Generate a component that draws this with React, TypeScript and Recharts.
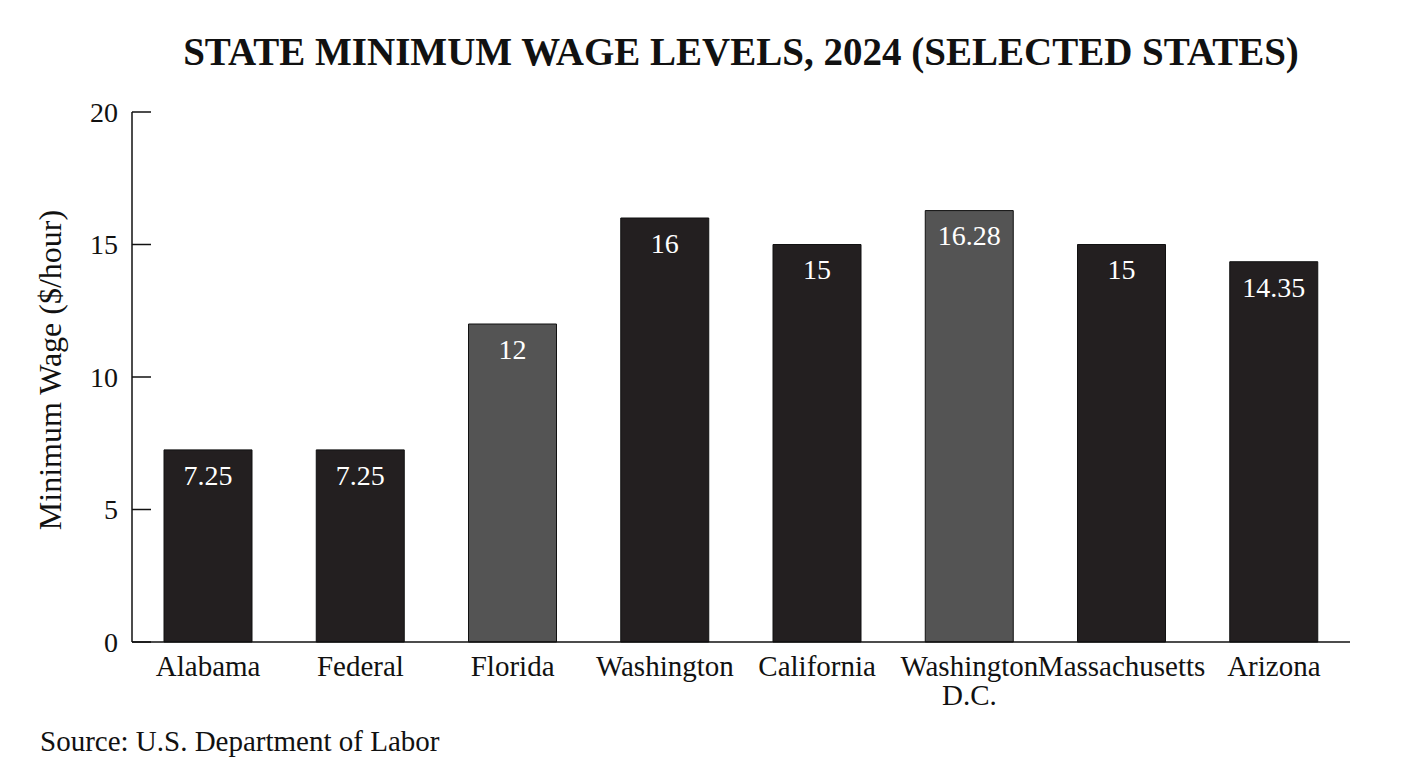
import { BarChart, Bar, XAxis, YAxis, Cell, LabelList } from "recharts";

const categories = [
  "Alabama",
  "Federal",
  "Florida",
  "Washington",
  "California",
  "Washington D.C.",
  "Massachusetts",
  "Arizona",
];
const wages = [7.25, 7.25, 12, 16, 15, 16.28, 15, 14.35];
const yTicks = [0, 5, 10, 15, 20];

const DARK = "#231f20";
const GREY = "#545454";
const barFills = [DARK, DARK, GREY, DARK, DARK, GREY, DARK, DARK];

const SERIF = '"Liberation Serif", "Times New Roman", serif';
const INK = "#111";

const data = categories.map((name, i) => ({ name, wage: wages[i] }));

const Y_TICK_MARGIN = 14;

function YTick({ x, y, payload }: any) {
  const axisX = x + Y_TICK_MARGIN;
  return (
    <g>
      <line x1={axisX} x2={axisX + 19} y1={y} y2={y} stroke={INK} strokeWidth={1.5} />
      <text
        x={x}
        y={y}
        dy="0.35em"
        textAnchor="end"
        fontFamily={SERIF}
        fontSize={28}
        fill={INK}
      >
        {payload.value}
      </text>
    </g>
  );
}

// long multi-word names break at the last space so neighbours don't collide
function splitLabel(label: string): string[] {
  const cut = label.lastIndexOf(" ");
  if (label.length <= 13 || cut < 0) return [label];
  return [label.slice(0, cut), label.slice(cut + 1)];
}

function XTick({ x, y, payload }: any) {
  const lines = splitLabel(String(payload.value));
  return (
    <text x={x} y={y} textAnchor="middle" fontFamily={SERIF} fontSize={29} fill={INK}>
      {lines.map((line, i) => (
        <tspan key={i} x={x} dy={i === 0 ? 21 : 29}>
          {line}
        </tspan>
      ))}
    </text>
  );
}

function YLabel() {
  const cx = 42;
  const cy = 362;
  return (
    <text
      x={cx}
      y={cy}
      transform={`rotate(-90 ${cx} ${cy})`}
      textAnchor="middle"
      dominantBaseline="central"
      fontFamily={SERIF}
      fontSize={32}
      fill={INK}
    >
      Minimum Wage ($/hour)
    </text>
  );
}

export default function App() {
  return (
    <div style={{ position: "relative", width: 1392, height: 752, background: "#fff" }}>
      <div
        style={{
          position: "absolute",
          left: 124,
          width: 1218,
          top: 22,
          textAlign: "center",
          fontFamily: SERIF,
          fontWeight: 700,
          fontSize: 39,
          color: INK,
          lineHeight: "44px",
        }}
      >
        STATE MINIMUM WAGE LEVELS, 2024 (SELECTED STATES)
      </div>
      <BarChart
        width={1392}
        height={752}
        data={data}
        margin={{ top: 104, right: 50, left: 64, bottom: 78 }}
        style={{ position: "absolute", left: 0, top: 0 }}
      >
        <XAxis
          dataKey="name"
          height={40}
          axisLine={{ stroke: INK, strokeWidth: 1.5 }}
          tickLine={false}
          tickSize={0}
          tickMargin={13}
          interval={0}
          tick={<XTick />}
        />
        <YAxis
          width={60}
          domain={[0, 20]}
          ticks={yTicks}
          axisLine={{ stroke: INK, strokeWidth: 1.5 }}
          tickLine={false}
          tickSize={0}
          tickMargin={Y_TICK_MARGIN}
          tick={<YTick />}
          label={{ content: () => <YLabel /> }}
        />
        <Bar dataKey="wage" barSize={88} stroke={INK} strokeWidth={1} isAnimationActive={false}>
          {data.map((d, i) => (
            <Cell key={d.name} fill={barFills[i]} />
          ))}
          <LabelList
            dataKey="wage"
            position="insideTop"
            offset={15}
            fill="#fff"
            fontFamily={SERIF}
            fontSize={28}
          />
        </Bar>
      </BarChart>
      <div
        style={{
          position: "absolute",
          left: 32,
          top: 716,
          fontFamily: SERIF,
          fontSize: 29,
          color: INK,
          lineHeight: "34px",
        }}
      >
        Source: U.S. Department of Labor
      </div>
    </div>
  );
}
